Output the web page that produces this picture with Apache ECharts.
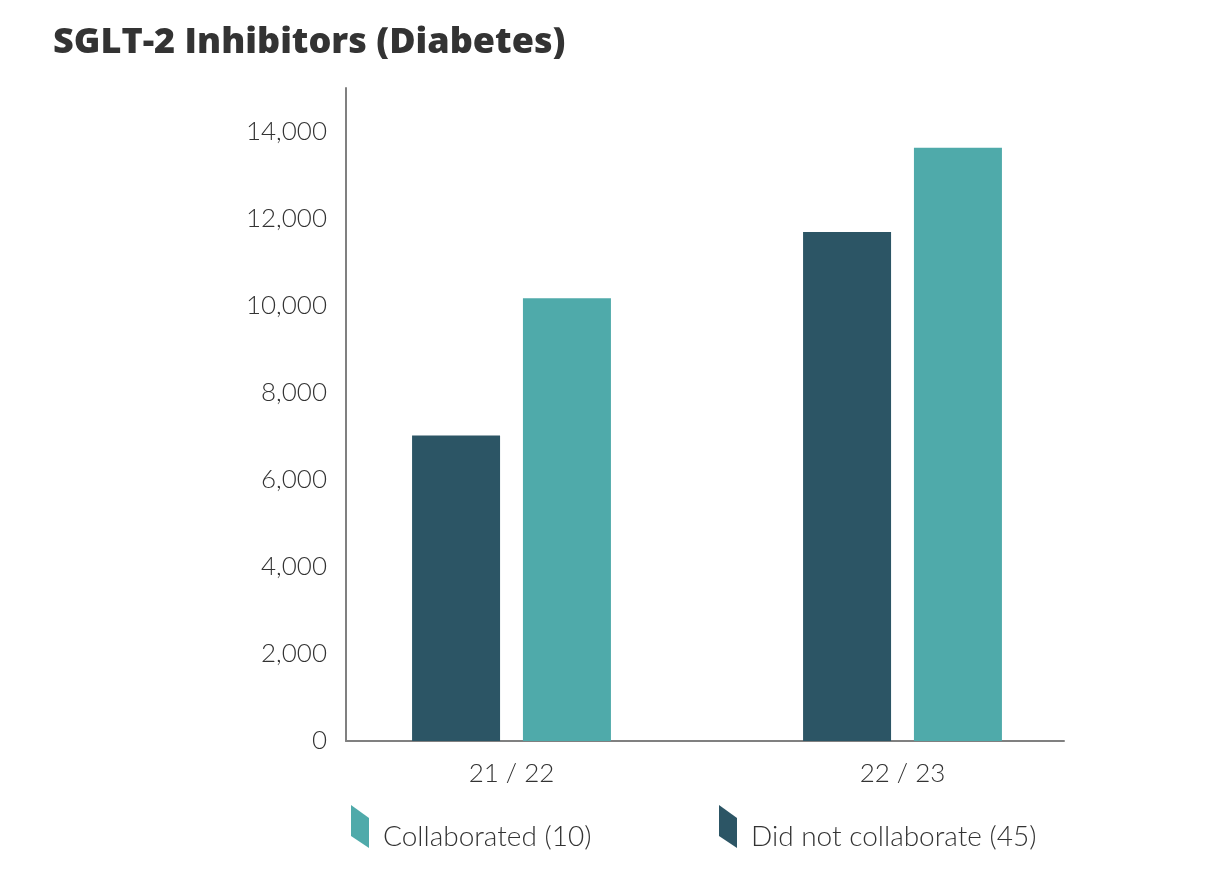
<!DOCTYPE html>
<html>
<head>
<meta charset="utf-8">
<script src="https://cdn.jsdelivr.net/npm/echarts@6/dist/echarts.min.js"></script>
<style>
  html, body { margin: 0; padding: 0; background: #fff; }
  #main { width: 1214px; height: 878px; }
</style>
</head>
<body>
<div id="main"></div>
<script>
// 数据
var categories = ['21 / 22', '22 / 23'];
var notCollaborated = [7020, 11690];
var collaborated = [10170, 13630];
var seriesNames = ['Did not collaborate (45)', 'Collaborated (10)'];

var darkColor = '#2C5565';
var tealColor = '#4FAAAA';
var axisColor = '#808080';
var textColor = '#333333';
var font = 'Lato';
// legend icon: slanted block
var icon = 'path://M0,0 L18,13 L18,43 L0,31 Z';

// text sits a little lower than the icon centre
var legendText = {
    fontFamily: font, fontWeight: 300, fontSize: 28, color: textColor,
    rich: { t: { fontFamily: font, fontWeight: 300, fontSize: 28, color: textColor, padding: [20, 0, 0, 9] } }
};
var legendFormatter = '{t|{name}}';

var myChart = echarts.init(document.getElementById('main'));
myChart.setOption({
    backgroundColor: '#fff',
    animation: false,
    title: {
        text: 'SGLT-2 Inhibitors (Diabetes)',
        left: 48,
        top: 20,
        textStyle: { fontFamily: 'Open Sans', fontWeight: 800, fontSize: 36, color: textColor }
    },
    legend: [
        {
            data: [{ name: seriesNames[1], icon: icon }],
            left: 346, top: 800,
            itemWidth: 18, itemHeight: 43, itemGap: 0,
            formatter: legendFormatter,
            textStyle: legendText
        },
        {
            data: [{ name: seriesNames[0], icon: icon }],
            left: 714, top: 800,
            itemWidth: 18, itemHeight: 43, itemGap: 0,
            formatter: legendFormatter,
            textStyle: legendText
        }
    ],
    grid: [
        // bars + labels
        { left: 316, right: 116, top: 88, bottom: 137 },
        // axis lines only
        { left: 346, right: 150, top: 88, bottom: 137 }
    ],
    xAxis: [
        {
            type: 'category', gridIndex: 0,
            data: categories,
            axisLine: { show: false },
            axisTick: { show: false },
            axisLabel: { margin: 20, fontFamily: font, fontWeight: 300, fontSize: 26, color: textColor }
        },
        {
            type: 'category', gridIndex: 1,
            data: categories,
            axisLine: { lineStyle: { color: axisColor, width: 2 } },
            axisTick: { show: false },
            axisLabel: { show: false }
        }
    ],
    yAxis: [
        {
            type: 'value', gridIndex: 0,
            min: 0, max: 15000, interval: 2000,
            offset: -30,
            axisLine: { show: false },
            axisTick: { show: false },
            splitLine: { show: false },
            axisLabel: { margin: 19, showMaxLabel: false, fontFamily: font, fontWeight: 300, fontSize: 26, color: textColor }
        },
        {
            type: 'value', gridIndex: 1,
            min: 0, max: 15000, interval: 2000,
            axisLine: { show: true, lineStyle: { color: axisColor, width: 2 } },
            axisTick: { show: false },
            splitLine: { show: false },
            axisLabel: { show: false }
        }
    ],
    series: [
        {
            name: seriesNames[0], type: 'bar',
            xAxisIndex: 0, yAxisIndex: 0,
            barWidth: 88, barGap: '26%',
            itemStyle: { color: darkColor },
            data: notCollaborated
        },
        {
            name: seriesNames[1], type: 'bar',
            xAxisIndex: 0, yAxisIndex: 0,
            barWidth: 88, barGap: '26%',
            itemStyle: { color: tealColor },
            data: collaborated
        }
    ]
});
</script>
</body>
</html>
